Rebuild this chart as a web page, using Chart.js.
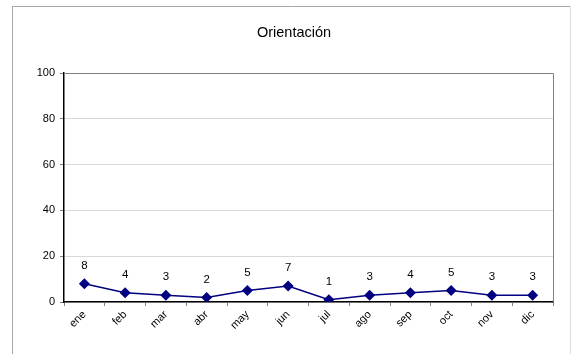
<!DOCTYPE html>
<html>
<head>
<meta charset="utf-8">
<script src="https://cdn.jsdelivr.net/npm/chart.js@4"></script>
<style>
  body { margin: 0; background: #fff; }
  #wrap { width: 572px; height: 354px; }
</style>
</head>
<body>
<div id="wrap"><canvas id="orientacionChart"></canvas></div>
<script>
// datos
const meses = ['ene', 'feb', 'mar', 'abr', 'may', 'jun', 'jul', 'ago', 'sep', 'oct', 'nov', 'dic'];
const valores = [8, 4, 3, 2, 5, 7, 1, 3, 4, 5, 3, 3];
const titulo = 'Orientación';

// marco exterior, título, borde del área y etiquetas de valor
const extras = {
    id: 'extras',
    beforeDraw(chart) {
        const c = chart.ctx;
        c.save();
        c.fillStyle = '#fff';
        c.fillRect(0, 0, chart.width, chart.height);
        c.strokeStyle = '#a6a6a6';
        c.lineWidth = 1;
        c.beginPath();
        c.moveTo(12.5, 354);
        c.lineTo(12.5, 6.5);
        c.lineTo(570.5, 6.5);
        c.stroke();
        c.strokeStyle = '#dcdcdc';
        c.beginPath();
        c.moveTo(570.5, 6.5);
        c.lineTo(570.5, 354);
        c.stroke();
        c.fillStyle = '#000';
        c.font = '14.5px Arial, "Liberation Sans"';
        c.textAlign = 'center';
        c.textBaseline = 'middle';
        c.fillText(titulo, 294, 33);
        c.restore();
    },
    afterDatasetsDraw(chart) {
        const c = chart.ctx;
        const a = chart.chartArea;
        c.save();
        c.strokeStyle = '#808080';
        c.lineWidth = 1;
        c.beginPath();
        c.moveTo(a.left, a.top + 0.5);
        c.lineTo(a.right + 0.5, a.top + 0.5);
        c.lineTo(a.right + 0.5, a.bottom);
        c.stroke();
        c.fillStyle = '#000';
        c.font = '11.5px Arial, "Liberation Sans"';
        c.textAlign = 'center';
        c.textBaseline = 'middle';
        chart.getDatasetMeta(0).data.forEach((pt, i) => {
            c.fillText(String(valores[i]), pt.x, pt.y - 18);
        });
        c.restore();
    }
};

const ctx = document.getElementById('orientacionChart').getContext('2d');
const orientacionChart = new Chart(ctx, {
    type: 'line',
    data: {
        labels: meses,
        datasets: [{
            label: titulo,
            data: valores,
            borderColor: '#000080',
            backgroundColor: '#000080',
            borderWidth: 1.5,
            pointStyle: 'rectRot',
            pointRadius: 5.5,
            pointBorderWidth: 0,
            tension: 0
        }]
    },
    plugins: [extras],
    options: {
        responsive: true,
        maintainAspectRatio: false,
        animation: false,
        layout: { padding: { top: 73, left: 0, right: 19, bottom: 0 } },
        plugins: {
            legend: { display: false },
            title: { display: false },
            tooltip: { enabled: false }
        },
        scales: {
            x: {
                offset: true,
                afterFit(s) { s.height = 52; },
                grid: {
                    offset: true,
                    drawOnChartArea: false,
                    drawTicks: true,
                    tickLength: 4,
                    tickColor: '#808080'
                },
                border: { color: '#000', width: 1.5 },
                ticks: {
                    color: '#000',
                    font: { family: 'Arial, "Liberation Sans"', size: 11 },
                    minRotation: 45,
                    maxRotation: 45,
                    padding: 2
                }
            },
            y: {
                min: 0,
                max: 100,
                afterFit(s) { s.width = 64; },
                grid: {
                    color: (c) => c.tick && c.tick.value === 100 ? '#808080' : '#d9d9d9',
                    tickLength: 4,
                    tickColor: '#808080'
                },
                border: { color: '#000', width: 1.5 },
                ticks: {
                    stepSize: 20,
                    color: '#000',
                    font: { family: 'Arial, "Liberation Sans"', size: 11 },
                    padding: 5
                }
            }
        }
    }
});
</script>
</body>
</html>
